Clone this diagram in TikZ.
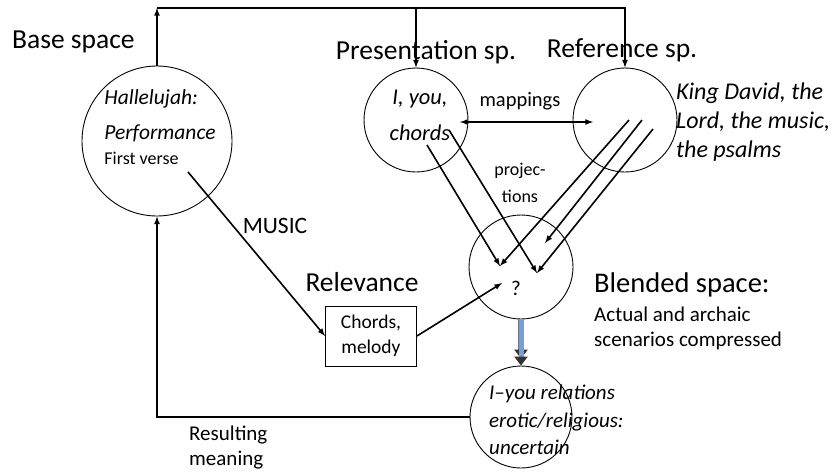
\documentclass[tikz,border=0pt]{standalone}
\usepackage{fontspec}
\setmainfont{Carlito}
\usetikzlibrary{arrows.meta}
\begin{document}
\begin{tikzpicture}[x=1pt,y=-1pt,every node/.style={inner sep=1pt}]
\tikzstyle{arrow}=[draw,line width=1.6pt,-latex]
\tikzstyle{space}=[draw,circle,line width=0.9pt,minimum size=104pt,inner sep=0pt]
\tikzstyle{big}=[font=\fontsize{27.5}{32}\selectfont]
\tikzstyle{mid}=[font=\fontsize{21.5}{29}\selectfont\itshape]
\tikzstyle{small}=[font=\fontsize{20.5}{25}\selectfont]
\tikzstyle{flow}=[line width=5pt,draw={rgb,255:red,118;green,158;blue,222},
  preaction={draw=black!55,line width=6.6pt,shorten >=7pt},
  -{Triangle[length=9pt,width=13pt,color=black!80]}]
\useasboundingbox (0,0) rectangle (835,472);

% the five spaces
\node[space,minimum size=150pt](base) at (157,141){};
\node[space](pres) at (416,120){};
\node[space](ref) at (625,120){};
\node[space](blend) at (521,267){};
\node[space,minimum size=102pt](res) at (521,417){};
\node[draw,line width=0.9pt,minimum width=91pt,minimum height=60pt,align=center,
  font=\fontsize{19.5}{25}\selectfont](rel) at (371,336){Chords,\\melody};

% titles
\node[big,anchor=west](baset) at (11,42){Base space};
\node[big](prest) at (426,52){Presentation sp.};
\node[big](reft) at (622,50){Reference sp.};
\node[big](relt) at (362,282){Relevance};
\node[big,font=\fontsize{28.5}{32}\selectfont,anchor=west](blendt) at (593,285){Blended space:};
\node[small,font=\fontsize{21}{25}\selectfont,anchor=west,align=left](blendd) at (593,328){Actual and archaic\\scenarios compressed};

% contents
\node[mid,align=left](basec) at (160,127){Hallelujah:\\[6pt]Performance\\[-4pt]{\upshape\fontsize{18}{20}\selectfont First verse}};
\node[mid,font=\fontsize{22.5}{36}\selectfont\itshape,align=center](presc) at (420,115){I, you,\\chords};
\node[mid,font=\fontsize{24}{29}\selectfont\itshape,anchor=west,align=left](refc) at (675,122){King David, the\\Lord, the music,\\the psalms};
\node[font=\fontsize{21}{24}\selectfont](blendc) at (516,288){?};
\node[mid,font=\fontsize{21}{27.5}\selectfont\itshape,anchor=west,align=left](resc) at (488,420){I--you relations\\erotic/religious:\\uncertain};

% labels
\node[small](mapl) at (520,101){mappings};
\node[small,font=\fontsize{18}{27}\selectfont,align=center](projl) at (520,183){projec-\\tions};
\node[small,font=\fontsize{23.5}{27}\selectfont](musicl) at (275,226){MUSIC};
\node[small,font=\fontsize{21}{25}\selectfont,anchor=west,align=left](resl) at (188,448){Resulting\\meaning};

% end points
\coordinate(topL) at (157,8);
\coordinate(topP) at (416,8);
\coordinate(m1) at (460,122);
\coordinate(m2) at (593,122);
\coordinate(p1s) at (427,145);
\coordinate(p1e) at (500,266);
\coordinate(p2s) at (449,130);
\coordinate(p2e) at (537,273);
\coordinate(r1s) at (629,120);
\coordinate(r2s) at (642,120);
\coordinate(r2e) at (545,243);
\coordinate(r3s) at (653,129);
\coordinate(q0) at (188,172);
\coordinate(q1) at (502,283);

% connectors
\path[arrow](base)--(topL);
\path[arrow](topL)-|(ref.north);
\path[arrow](topP)--(pres.north);
\path[arrow,latex-latex](m1)--(m2);
\path[arrow](p1s)--(p1e);
\path[arrow](p2s)--(p2e);
\path[arrow](r1s)--(p1e);
\path[arrow](r2s)--(r2e);
\path[arrow](r3s)--(p2e);
\path[arrow](q0)--(rel.west);
\path[arrow](rel.east)--(q1);
\path[arrow](res.west)-|(base.south);
\draw[flow](blend.south)--(res.north);
\end{tikzpicture}
\end{document}
